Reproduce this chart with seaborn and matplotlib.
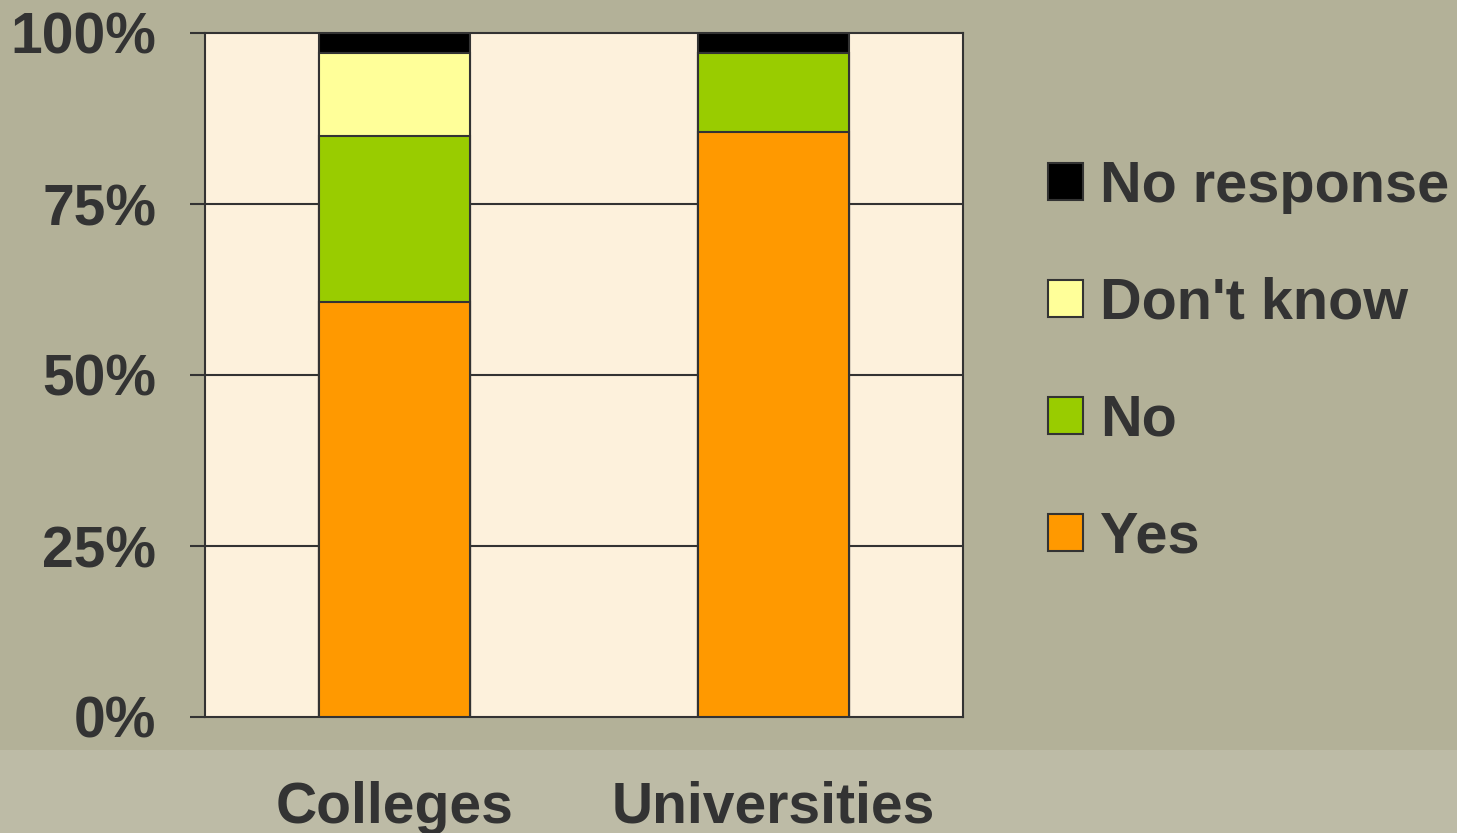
import numpy as np
import pandas as pd
import matplotlib
matplotlib.use("Agg")
import matplotlib.pyplot as plt
from matplotlib.patches import Patch, Rectangle
import seaborn as sns

categories = ["Colleges", "Universities"]
yes = [60.7, 85.5]
no = [24.2, 11.6]
dont_know = [12.2, 0.0]
no_response = [2.9, 2.9]

series_names = ["No response", "Don't know", "No", "Yes"]
series_colors = ["#000000", "#ffff99", "#99cc00", "#ff9900"]
ytick_values = [0, 25, 50, 75, 100]
ytick_labels = ["0%", "25%", "50%", "75%", "100%"]

sns.set_theme(style="white")
plt.rcParams["font.family"] = ["Liberation Sans", "DejaVu Sans"]
plt.rcParams["font.weight"] = "bold"

fig = plt.figure(figsize=(14.57, 8.33), dpi=100)
fig.patch.set_facecolor("#b3b198")
fig.patches.append(Rectangle((0, 0), 1, 0.1, transform=fig.transFigure,
                             facecolor="#bdbba6", edgecolor="none", zorder=-5))
ax = fig.add_axes([205 / 1457, 1 - 717 / 833, 758 / 1457, 684 / 833])
ax.set_zorder(2)
ax.set_facecolor("#fdf1dc")

df = pd.DataFrame({"cat": categories, "Yes": yes, "No": no,
                   "Don't know": dont_know, "No response": no_response})
stack_order = ["Yes", "No", "Don't know", "No response"]
cum = df[stack_order].cumsum(axis=1)
draw = [("No response", "#000000"), ("Don't know", "#ffff99"),
        ("No", "#99cc00"), ("Yes", "#ff9900")]
for name, col in draw:
    sns.barplot(x=df["cat"], y=cum[name], color=col, width=0.4,
                edgecolor="#333333", linewidth=1.5, saturation=1, ax=ax, zorder=3)

for v in ytick_values[1:-1]:
    ax.axhline(v, color="#333333", lw=1.5, zorder=1)

ax.set_ylim(0, 100)
ax.set_xlim(-0.5, 1.5)
ax.set_yticks(ytick_values)
ax.set_yticklabels(ytick_labels)
ax.set_xticks([0, 1])
ax.set_xticklabels(categories)
ax.set_xlabel("")
ax.set_ylabel("")
ax.tick_params(axis="y", length=11, width=1.5, color="#333333", pad=24,
               labelsize=41, labelcolor="#333333", left=True, direction="out")
ax.tick_params(axis="x", length=0, pad=46, labelsize=41, labelcolor="#333333",
               bottom=True)
for lab in ax.get_xticklabels() + ax.get_yticklabels():
    lab.set_fontweight("bold")
    lab.set_visible(True)
for s in ax.spines.values():
    s.set_color("#333333")
    s.set_linewidth(1.5)
    s.set_visible(True)

handles = [Patch(facecolor=c, edgecolor="#333333", linewidth=1.5) for c in series_colors]
leg = fig.legend(handles, series_names, loc="upper left",
                 bbox_to_anchor=(1025 / 1457, 1 - 137 / 833),
                 frameon=False, prop={"size": 41.5, "weight": "bold"},
                 labelcolor="#333333", handlelength=0.6, handleheight=0.6,
                 handletextpad=0.3, labelspacing=1.09, borderaxespad=0)

fig.savefig("out.png", dpi=100, facecolor=fig.get_facecolor())
